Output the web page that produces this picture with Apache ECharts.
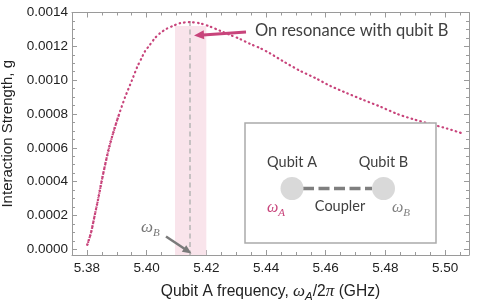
<!DOCTYPE html>
<html>
<head>
<meta charset="utf-8">
<script src="https://cdn.jsdelivr.net/npm/echarts@6/dist/echarts.min.js"></script>
<style>
html,body{margin:0;padding:0;background:#fff;}
#chart{width:479px;height:307px;}
</style>
</head>
<body>
<div id="chart"></div>
<script>
// ---- data ----
const freq = [5.3801, 5.3814, 5.3826, 5.3838, 5.3849, 5.3861, 5.3874, 5.3890, 5.3908, 5.3928,
  5.3951, 5.3969, 5.3983, 5.3994, 5.4011, 5.4028, 5.4045, 5.4067, 5.4089, 5.4112,
  5.4145, 5.4179, 5.4212, 5.4246, 5.4279, 5.4313, 5.4346, 5.4380, 5.4413, 5.4457,
  5.4514, 5.4570, 5.4615, 5.4671, 5.4726, 5.4782, 5.4838, 5.4893, 5.4950, 5.5006, 5.5056];
const strength = [0.0000254, 0.000100, 0.000200, 0.000300, 0.000400, 0.000500, 0.000600, 0.000700, 0.000800, 0.000900,
  0.001000, 0.001080, 0.001130, 0.001169, 0.001209, 0.001249, 0.001278, 0.001304, 0.001321, 0.001337,
  0.001343, 0.001336, 0.001317, 0.001292, 0.001268, 0.001243, 0.001215, 0.001189, 0.001159, 0.001112,
  0.001055, 0.001008, 0.000966, 0.000923, 0.000883, 0.000844, 0.000801, 0.000769, 0.000741, 0.000714, 0.000686];
const xTicks = [5.38, 5.40, 5.42, 5.44, 5.46, 5.48, 5.50];
const yTicks = [0, 0.0002, 0.0004, 0.0006, 0.0008, 0.0010, 0.0012, 0.0014];
const omegaB = 5.4145;
const resonanceBand = [5.4095, 5.4200];
const bandTop = 0.00132;
const denseCount = 9; // steep rising part where samples merge into a solid trace

// minor tick positions (axis decoration only)
const xMinor = []; for (let i = 0; i <= 26; i++) xMinor.push(+(5.375 + i * 0.005).toFixed(3));
const yMinor = []; for (let i = 0; i <= 28; i++) yMinor.push(+(i * 0.00005).toFixed(5));

const X_MIN = 5.375, X_MAX = 5.508, Y_MIN = -0.000034, Y_MAX = 0.0014;
const axisColor = '#9a9a9a';
const labelFont = 'Liberation Sans';
const calFont = 'Lato';
const pink = '#c8447b';

function xAx(pos, major, showLabel, showLine) {
  return {
    type: 'value', position: pos, min: X_MIN, max: X_MAX,
    axisLine: {show: showLine, onZero: false, lineStyle: {color: axisColor, width: 1}},
    axisTick: {show: true, inside: true, length: major ? 5 : 3, customValues: major ? xTicks : xMinor,
      lineStyle: {color: axisColor, width: 1}},
    axisLabel: {show: showLabel, customValues: xTicks, formatter: v => v.toFixed(2), margin: 6,
      fontSize: 13.5, color: '#222', fontFamily: labelFont},
    splitLine: {show: false}
  };
}
function yAx(pos, major, showLabel, showLine) {
  return {
    type: 'value', position: pos, min: Y_MIN, max: Y_MAX,
    axisLine: {show: showLine, onZero: false, lineStyle: {color: axisColor, width: 1}},
    axisTick: {show: true, inside: true, length: major ? 5 : 3, customValues: major ? yTicks : yMinor,
      lineStyle: {color: axisColor, width: 1}},
    axisLabel: {show: showLabel, customValues: yTicks, formatter: v => v.toFixed(4), margin: 4,
      fontSize: 13.5, color: '#222', fontFamily: labelFont},
    splitLine: {show: false}
  };
}

const xMain = xAx('bottom', true, true, true);
xMain.name = '{a|Qubit A frequency, }{w|ω}{s|A}{a|/2}{w|π}{a| (GHz)}';
xMain.nameLocation = 'middle';
xMain.nameGap = 28;
xMain.nameTextStyle = {
  rich: {
    a: {fontSize: 15.6, fontFamily: labelFont, color: '#222', verticalAlign: 'bottom'},
    w: {fontSize: 17, fontFamily: 'Liberation Serif', fontStyle: 'italic', color: '#222', verticalAlign: 'bottom'},
    s: {fontSize: 11.5, fontFamily: labelFont, fontStyle: 'italic', color: '#222', verticalAlign: 'bottom', padding: [0, 0, -3, 0]}
  }
};
const yMain = yAx('left', true, true, true);
yMain.name = 'Interaction Strength, g';
yMain.nameLocation = 'middle';
yMain.nameGap = 50;
yMain.nameTextStyle = {fontSize: 15, fontFamily: labelFont, color: '#222'};

function arrow(x1, y1, x2, y2, color, w, hl, hw) {
  const dx = x2 - x1, dy = y2 - y1, L = Math.hypot(dx, dy);
  const ux = dx / L, uy = dy / L, nx = -uy, ny = ux;
  const bx = x2 - ux * hl, by = y2 - uy * hl;
  return [
    {type: 'line', shape: {x1: x1, y1: y1, x2: bx + ux * 1, y2: by + uy * 1}, style: {stroke: color, lineWidth: w}, z: 50},
    {type: 'polygon', shape: {points: [[x2, y2], [bx + nx * hw, by + ny * hw], [bx - nx * hw, by - ny * hw]]},
      style: {fill: color}, z: 50}
  ];
}

const graphics = [].concat(
  arrow(246, 32, 194, 35.5, pink, 3, 10, 4.5),
  arrow(166, 236.5, 191.5, 253.5, '#7a7a7a', 2.5, 9, 4),
  [
    {type: 'text', left: 255, top: 22, z: 50,
      style: {text: 'On resonance with qubit B', fontSize: 16.5, fontFamily: calFont, fill: '#404040'}},
    {type: 'text', left: 141, top: 219, z: 50,
      style: {text: '{w|ω}{s|B}', rich: {
        w: {fontSize: 17, fontFamily: 'Liberation Serif', fontStyle: 'italic', fill: '#777', verticalAlign: 'bottom'},
        s: {fontSize: 11, fontFamily: 'Liberation Serif', fontStyle: 'italic', fill: '#777', verticalAlign: 'bottom', padding: [0, 0, -3, 0]}
      }}},
    // inset schematic
    {type: 'rect', shape: {x: 245, y: 123, width: 191, height: 120},
      style: {fill: '#fff', stroke: '#aaaaaa', lineWidth: 1.5}, z: 40},
    {type: 'line', shape: {x1: 303, y1: 188.5, x2: 372, y2: 188.5},
      style: {stroke: '#7f7f7f', lineWidth: 3.5, lineDash: [11, 4.5]}, z: 41},
    {type: 'circle', shape: {cx: 292, cy: 188.5, r: 11.5}, style: {fill: '#d9d9d9'}, z: 42},
    {type: 'circle', shape: {cx: 383.5, cy: 188.5, r: 11.5}, style: {fill: '#d9d9d9'}, z: 42},
    {type: 'text', x: 292, y: 162.5, z: 43,
      style: {text: 'Qubit A', fontSize: 14.5, fontFamily: calFont, fill: '#404040', align: 'center', verticalAlign: 'middle'}},
    {type: 'text', x: 383.5, y: 162.5, z: 43,
      style: {text: 'Qubit B', fontSize: 14.5, fontFamily: calFont, fill: '#404040', align: 'center', verticalAlign: 'middle'}},
    {type: 'text', x: 340, y: 206, z: 43,
      style: {text: 'Coupler', fontSize: 14.5, fontFamily: calFont, fill: '#404040', align: 'center', verticalAlign: 'middle'}},
    {type: 'text', x: 267, y: 200, z: 43,
      style: {text: '{w|ω}{s|A}', rich: {
        w: {fontSize: 16, fontFamily: 'Liberation Serif', fontStyle: 'italic', fill: pink, verticalAlign: 'bottom'},
        s: {fontSize: 11, fontFamily: 'Liberation Serif', fontStyle: 'italic', fill: pink, verticalAlign: 'bottom', padding: [0, 0, -3, 0]}
      }}},
    {type: 'text', x: 392, y: 200, z: 43,
      style: {text: '{w|ω}{s|B}', rich: {
        w: {fontSize: 16, fontFamily: 'Liberation Serif', fontStyle: 'italic', fill: '#808080', verticalAlign: 'bottom'},
        s: {fontSize: 11, fontFamily: 'Liberation Serif', fontStyle: 'italic', fill: '#808080', verticalAlign: 'bottom', padding: [0, 0, -3, 0]}
      }}}
  ]
);

const pts = freq.map((f, i) => [f, strength[i]]);
const chart = echarts.init(document.getElementById('chart'), null, {renderer: 'canvas'});
chart.setOption({
  animation: false,
  backgroundColor: '#fff',
  grid: {left: 72, right: 10, top: 12.5, bottom: 52, containLabel: false, outerBoundsMode: 'none'},
  xAxis: [xMain, xAx('bottom', false, false, false), xAx('top', true, false, true), xAx('top', false, false, false)],
  yAxis: [yMain, yAx('left', false, false, false), yAx('right', true, false, true), yAx('right', false, false, false)],
  series: [{
    type: 'line',
    xAxisIndex: 0, yAxisIndex: 0,
    data: pts,
    showSymbol: false,
    smooth: 0.25,
    lineStyle: {color: pink, width: 2.2, type: [0.6, 4], cap: 'round'},
    z: 5,
    markArea: {
      silent: true,
      itemStyle: {color: '#f9e4eb'},
      data: [[{xAxis: resonanceBand[0], yAxis: bandTop}, {xAxis: resonanceBand[1], yAxis: Y_MIN}]]
    },
    markLine: {
      silent: true, symbol: ['none', 'none'], label: {show: false},
      lineStyle: {color: '#b5b5b5', width: 1.5, type: [5, 3.5]},
      data: [[{coord: [omegaB, 0.00135]}, {coord: [omegaB, Y_MIN]}]]
    }
  }, {
    type: 'line',
    xAxisIndex: 0, yAxisIndex: 0,
    data: pts.slice(0, denseCount),
    showSymbol: false,
    smooth: 0.25,
    lineStyle: {color: pink, width: 2.2, type: [1.2, 1.2], cap: 'butt'},
    z: 6
  }],
  graphic: graphics
});
</script>
</body>
</html>
